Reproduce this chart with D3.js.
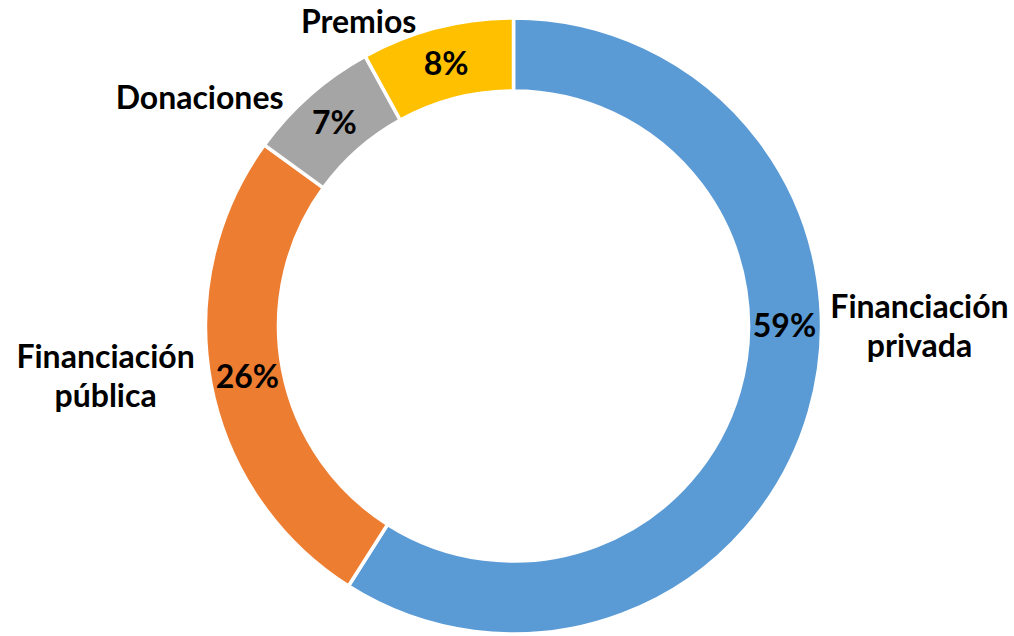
<!DOCTYPE html>
<html>
<head>
<meta charset="utf-8">
<script src="https://cdn.jsdelivr.net/npm/d3@7"></script>
<style>
  body { margin: 0; background: #fff; }
</style>
</head>
<body>
<div class="container"></div>
<script>
// data
var categories = ["Financiación privada", "Financiación pública", "Donaciones", "Premios"];
var values = [59, 26, 7, 8];
var colors = ["#5B9BD5", "#ED7D31", "#A5A5A5", "#FFC000"];

// outside label lines
var labelLines = [["Financiación", "privada"], ["Financiación", "pública"], ["Donaciones"], ["Premios"]];

var width = 1014,
    height = 636;

var cx = 513.5, cy = 326,
    outerR = 308, innerR = 235;

var svg = d3.select(".container").append("svg")
    .attr("width", width)
    .attr("height", height)
  .append("g")
    .attr("transform", `translate(${cx},${cy})`);

var pie = d3.pie().sort(null).value(d => d);
var arcs = pie(values);

var arc = d3.arc().innerRadius(innerR).outerRadius(outerR);

svg.selectAll("path")
  .data(arcs)
  .join("path")
    .attr("d", arc)
    .attr("fill", (d, i) => colors[i])
    .attr("stroke", "#fff")
    .attr("stroke-width", 3.5);

// percent labels: mid angle, first one moved to 3 o'clock like the original
var pctR = 271;
function pctAngle(d, i) { return i == 0 ? Math.PI / 2 : (d.startAngle + d.endAngle) / 2; }

svg.append("g")
    .style("font", "bold 32px Lato, sans-serif")
    .attr("text-anchor", "middle")
  .selectAll("text")
  .data(arcs)
  .join("text")
    .attr("x", (d, i) => pctR * Math.sin(pctAngle(d, i)))
    .attr("y", (d, i) => -pctR * Math.cos(pctAngle(d, i)))
    .attr("dy", "0.35em")
    .attr("fill", "#000")
    .text(d => d.data + "%");

// category labels, placed around the ring (angle in degrees, radius)
var catPos = [[90, 406], [263, 411], [306, 388], [333, 341]];
var lineH = 39;

var cat = svg.append("g")
    .style("font", "bold 32px Lato, sans-serif")
    .attr("text-anchor", "middle")
  .selectAll("text")
  .data(categories)
  .join("text")
    .attr("fill", "#000")
    .attr("transform", (d, i) => {
      var a = catPos[i][0] * Math.PI / 180, r = catPos[i][1];
      var y0 = -r * Math.cos(a) - (labelLines[i].length - 1) * lineH / 2;
      return `translate(${r * Math.sin(a)},${y0})`;
    });

cat.selectAll("tspan")
  .data((d, i) => labelLines[i])
  .join("tspan")
    .attr("x", 0)
    .attr("y", (d, j) => j * lineH)
    .attr("dy", "0.35em")
    .text(d => d);
</script>
</body>
</html>
